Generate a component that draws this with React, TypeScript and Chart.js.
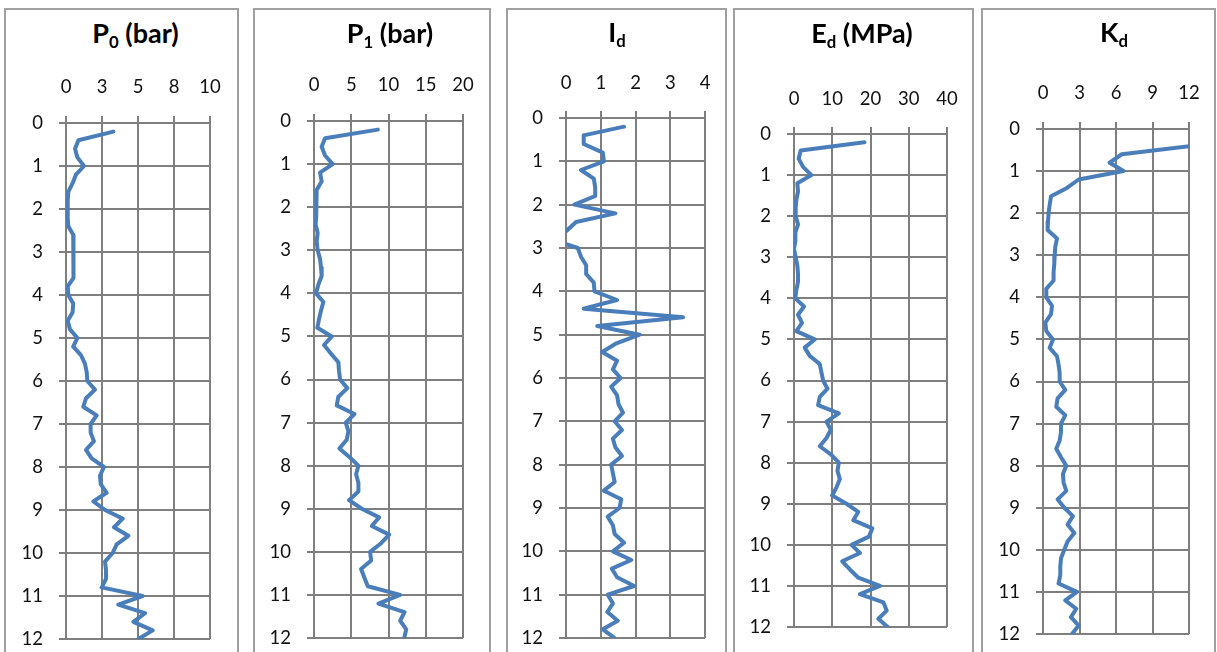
import React, { useEffect, useRef } from 'react';
import { Chart, registerables } from 'chart.js';

Chart.register(...registerables);

// ---- data ----
const DEPTHS = [
  0.2, 0.4, 0.6, 0.8, 1.0, 1.2, 1.4, 1.6, 1.8, 2.0,
  2.2, 2.4, 2.6, 2.8, 3.0, 3.2, 3.4, 3.6, 3.8, 4.0,
  4.2, 4.4, 4.6, 4.8, 5.0, 5.2, 5.4, 5.6, 5.8, 6.0,
  6.2, 6.4, 6.6, 6.8, 7.0, 7.2, 7.4, 7.6, 7.8, 8.0,
  8.2, 8.4, 8.6, 8.8, 9.0, 9.2, 9.4, 9.6, 9.8, 10.0,
  10.2, 10.4, 10.6, 10.8, 11.0, 11.2, 11.4, 11.6, 11.8, 12.0,
];

const P0_VALUES = [
  3.29, 0.86, 0.63, 0.79, 1.25, 0.69, 0.46, 0.16, 0.12, 0.12,
  0.12, 0.16, 0.5, 0.5, 0.5, 0.5, 0.55, 0.55, 0.12, 0.16,
  0.5, 0.46, 0.12, 0.28, 0.79, 0.5, 1.04, 1.32, 1.44, 1.48,
  2.01, 1.39, 1.2, 2.13, 1.71, 1.71, 1.94, 1.39, 1.78, 2.64,
  2.36, 2.41, 2.82, 1.9, 2.71, 3.94, 3.33, 4.33, 3.52, 3.24,
  2.71, 2.78, 2.78, 2.48, 5.32, 3.63, 5.49, 4.68, 6.02, 5.02,
];

const P1_VALUES = [
  8.57, 1.48, 1.03, 1.48, 2.51, 0.81, 1.03, 0.36, 0.27, 0.27,
  0.36, 0.22, 0.49, 0.36, 0.49, 0.81, 0.94, 1.03, 0.58, 0.27,
  1.26, 0.94, 0.67, 0.45, 2.38, 1.35, 2.29, 3.27, 3.36, 3.5,
  4.48, 3.27, 3.05, 5.43, 4.26, 4.62, 4.39, 3.41, 4.75, 5.96,
  5.65, 5.96, 5.96, 4.71, 6.41, 8.74, 7.76, 10.09, 9.01, 7.53,
  7.67, 6.32, 6.77, 7.22, 11.57, 8.65, 12.15, 11.57, 12.38, 12.11,
];

const ID_VALUES = [
  1.67, 0.51, 0.51, 1.06, 1.09, 0.43, 0.8, 0.84, 0.84, 0.24,
  1.42, 0.29, 0.02, -0.4, 0.34, 0.43, 0.58, 0.58, 0.8, 0.82,
  1.47, 0.51, 3.37, 0.9, 2.12, 1.45, 1.04, 1.47, 1.35, 1.57,
  1.3, 1.47, 1.51, 1.64, 1.4, 1.61, 1.35, 1.42, 1.61, 1.3,
  1.35, 1.4, 1.09, 1.59, 1.54, 1.2, 1.35, 1.4, 1.67, 1.35,
  1.88, 1.32, 1.47, 1.96, 1.2, 1.35, 1.19, 1.49, 1.06, 1.4,
];

const ED_VALUES = [
  18.4, 1.75, 1.22, 2.36, 4.55, 0.87, 1.05, 0.61, 0.44, 0.44,
  1.05, 0.35, 0.35, 0.0, 0.44, 0.87, 1.05, 1.05, 0.61, 0.35,
  2.62, 1.05, 2.1, 0.61, 5.42, 2.8, 4.11, 6.74, 7.17, 7.61,
  8.75, 6.74, 6.3, 11.72, 8.49, 9.62, 8.49, 6.74, 9.62, 11.72,
  11.37, 11.99, 11.11, 9.97, 13.74, 16.8, 15.49, 20.47, 19.6, 15.05,
  17.24, 12.6, 14.61, 16.8, 22.49, 17.24, 23.36, 24.23, 22.05, 24.5,
];

const KD_VALUES = [
  20.0, 12.3, 6.48, 5.47, 6.62, 2.93, 1.97, 0.66, 0.55, 0.46,
  0.41, 0.38, 1.15, 1.01, 0.96, 0.93, 0.87, 0.87, 0.27, 0.27,
  0.74, 0.66, 0.19, 0.27, 0.82, 0.55, 1.15, 1.28, 1.37, 1.37,
  1.83, 1.2, 1.09, 1.83, 1.48, 1.48, 1.37, 1.09, 1.48, 1.91,
  1.64, 1.69, 1.91, 1.2, 1.75, 2.46, 2.02, 2.57, 2.02, 1.75,
  1.48, 1.42, 1.42, 1.28, 2.79, 1.83, 2.73, 2.3, 2.93, 2.38,
];

const DEPTH_TICK_LABELS = ['0', '1', '2', '3', '4', '5', '6', '7', '8', '9', '10', '11', '12'];
const P0_TICK_LABELS = ['0', '3', '5', '8', '10'];
const P1_TICK_LABELS = ['0', '5', '10', '15', '20'];
const ID_TICK_LABELS = ['0', '1', '2', '3', '4'];
const ED_TICK_LABELS = ['0', '10', '20', '30', '40'];
const KD_TICK_LABELS = ['0', '3', '6', '9', '12'];

const P0_RANGE = [0, 10, 2.5];
const P1_RANGE = [0, 20, 5];
const ID_RANGE = [0, 4, 1];
const ED_RANGE = [0, 40, 10];
const KD_RANGE = [0, 12, 3];

// ---- layout / style ----
const LINE_COLOR = '#4A7EBB';
const GRID_COLOR = '#7f7f7f';
const BOX_COLOR = '#a0a0a0';
const FONT = 'Lato, "Open Sans", sans-serif';
const TICK_SIZE = 18.5;
const Y_AXIS_W = 62;
const X_AXIS_H = 60;
const PAD_R = 45;
const PAD_B = 45;

type PanelDef = {
  values: number[];
  ticks: string[];
  range: number[];
  box: [number, number];
  plot: { L: number; R: number; T: number; B: number };
  title: [string, string, string];
  titleCx: number;
  titleBase: number;
  titleSize: number;
  xPad: number;
};

const PANELS: PanelDef[] = [
  { values: P0_VALUES, ticks: P0_TICK_LABELS, range: P0_RANGE, box: [5, 238],
    plot: { L: 66, R: 210, T: 123, B: 639 }, title: ['P', '0', ' (bar)'], titleCx: 135.5, titleBase: 43, titleSize: 27, xPad: 18 },
  { values: P1_VALUES, ticks: P1_TICK_LABELS, range: P1_RANGE, box: [254, 490],
    plot: { L: 314, R: 463, T: 121, B: 638 }, title: ['P', '1', ' (bar)'], titleCx: 390, titleBase: 43, titleSize: 27, xPad: 18 },
  { values: ID_VALUES, ticks: ID_TICK_LABELS, range: ID_RANGE, box: [507, 726],
    plot: { L: 566, R: 705, T: 118, B: 638 }, title: ['I', 'd', ''], titleCx: 617, titleBase: 42, titleSize: 27, xPad: 17 },
  { values: ED_VALUES, ticks: ED_TICK_LABELS, range: ED_RANGE, box: [734, 973],
    plot: { L: 794, R: 947, T: 134, B: 627 }, title: ['E', 'd', ' (MPa)'], titleCx: 862, titleBase: 43, titleSize: 27, xPad: 17 },
  { values: KD_VALUES, ticks: KD_TICK_LABELS, range: KD_RANGE, box: [982, 1215],
    plot: { L: 1043, R: 1189, T: 129, B: 634 }, title: ['K', 'd', ''], titleCx: 1114, titleBase: 42, titleSize: 27, xPad: 18 },
];

function Panel({ def }: { def: PanelDef }) {
  const ref = useRef<HTMLCanvasElement>(null);
  const { plot } = def;
  const cw = plot.R - plot.L + Y_AXIS_W + PAD_R;
  const ch = plot.B - plot.T + X_AXIS_H + PAD_B;

  useEffect(() => {
    const [xmin, xmax, xstep] = def.range;
    const chart = new Chart(ref.current as HTMLCanvasElement, {
      type: 'line',
      data: {
        datasets: [
          {
            data: DEPTHS.map((d, i) => ({ x: def.values[i], y: d })),
            borderColor: LINE_COLOR,
            backgroundColor: LINE_COLOR,
            borderWidth: 4,
            pointRadius: 0,
            tension: 0,
            fill: false,
            borderJoinStyle: 'round',
            borderCapStyle: 'round',
          },
        ],
      },
      options: {
        indexAxis: 'y',
        animation: false,
        responsive: false,
        devicePixelRatio: 1,
        layout: { padding: { left: 0, top: 0, right: PAD_R, bottom: PAD_B } },
        plugins: { legend: { display: false }, tooltip: { enabled: false }, title: { display: false } },
        scales: {
          x: {
            type: 'linear',
            position: 'top',
            min: xmin,
            max: xmax,
            afterFit: (s: any) => { s.height = X_AXIS_H; },
            afterBuildTicks: (s: any) => {
              s.ticks = def.ticks.map((_, i) => ({ value: xmin + i * xstep }));
            },
            ticks: {
              autoSkip: false,
              maxRotation: 0,
              padding: def.xPad,
              color: '#111',
              font: { family: FONT, size: TICK_SIZE },
              callback: (_v: any, i: number) => def.ticks[i],
            },
            grid: { color: GRID_COLOR, lineWidth: 2, drawTicks: true, tickLength: 7, tickColor: GRID_COLOR },
            border: { color: GRID_COLOR, width: 2 },
          },
          y: {
            type: 'linear',
            position: 'left',
            reverse: true,
            min: 0,
            max: 12,
            afterFit: (s: any) => { s.width = Y_AXIS_W; },
            afterBuildTicks: (s: any) => {
              s.ticks = DEPTH_TICK_LABELS.map((_, i) => ({ value: i }));
            },
            ticks: {
              autoSkip: false,
              padding: 16,
              color: '#111',
              font: { family: FONT, size: TICK_SIZE },
              callback: (_v: any, i: number) => DEPTH_TICK_LABELS[i],
            },
            grid: { color: GRID_COLOR, lineWidth: 2, drawTicks: true, tickLength: 7, tickColor: GRID_COLOR },
            border: { color: GRID_COLOR, width: 2 },
          },
        },
      },
    } as any);
    return () => chart.destroy();
  }, []);

  const fs = def.titleSize;
  const titleTop = def.titleBase - 0.887 * fs;

  return (
    <>
      <div
        style={{
          position: 'absolute',
          left: def.box[0] - 1,
          top: 8,
          width: def.box[1] - def.box[0] + 2,
          height: 700,
          border: `2px solid ${BOX_COLOR}`,
          boxSizing: 'border-box',
        }}
      />
      <div
        style={{
          position: 'absolute',
          left: def.titleCx - 150,
          width: 300,
          top: titleTop,
          textAlign: 'center',
          fontFamily: FONT,
          fontWeight: 700,
          fontSize: fs,
          lineHeight: `${fs}px`,
          color: '#000',
          whiteSpace: 'nowrap',
        }}
      >
        {def.title[0]}
        <span style={{ fontSize: '0.62em', verticalAlign: '-0.3em', lineHeight: 0 }}>{def.title[1]}</span>
        {def.title[2]}
      </div>
      <canvas
        ref={ref}
        width={cw}
        height={ch}
        style={{ position: 'absolute', left: plot.L - Y_AXIS_W, top: plot.T - X_AXIS_H, width: cw, height: ch }}
      />
    </>
  );
}

export default function App() {
  return (
    <div
      style={{
        position: 'fixed',
        left: 0,
        top: 0,
        width: 1217,
        height: 652,
        overflow: 'hidden',
        background: '#fff',
      }}
    >
      {PANELS.map((p, i) => (
        <Panel key={i} def={p} />
      ))}
    </div>
  );
}
